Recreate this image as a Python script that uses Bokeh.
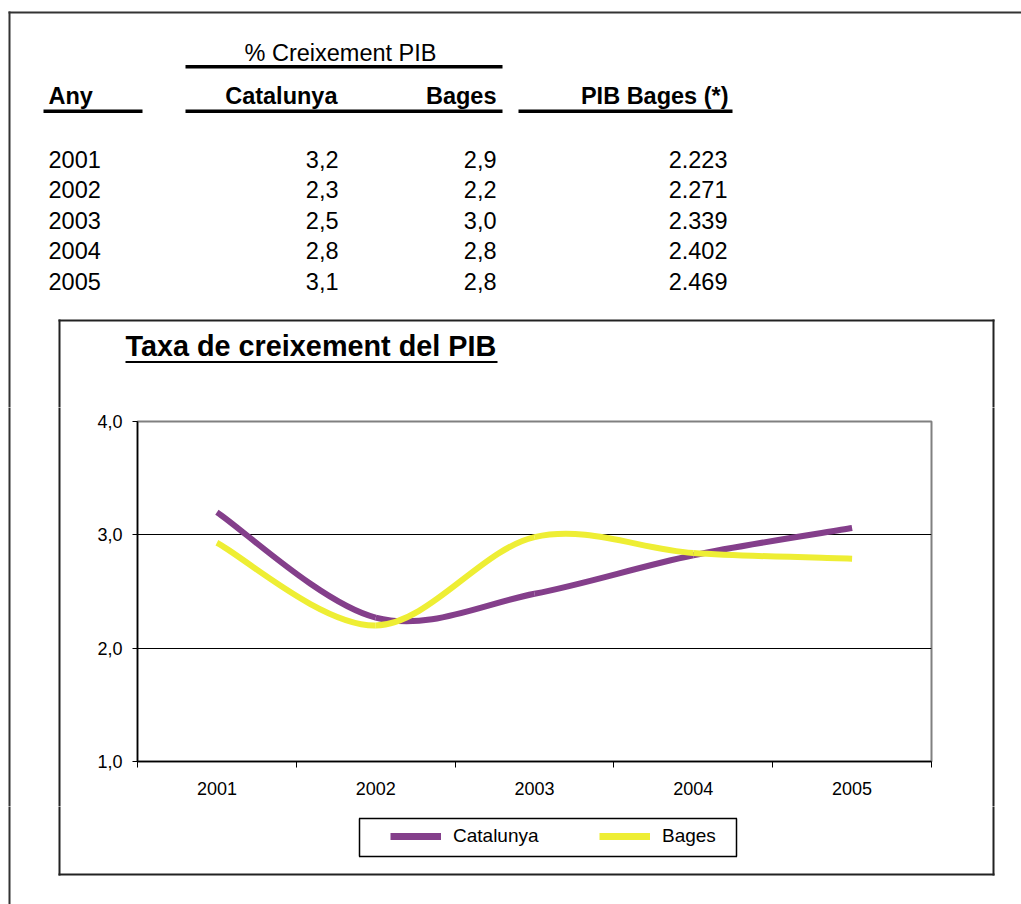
from bokeh.plotting import figure
from bokeh.models import (FixedTicker, Legend, LegendItem, ColumnDataSource, Range1d)
from bokeh.layouts import column, row
from bokeh.core.properties import value
from bokeh.embed import file_html
from bokeh.resources import INLINE

# ---------------- data ----------------
years = [2001, 2002, 2003, 2004, 2005]
# table values (% growth, PIB)
cat_table = [3.2, 2.3, 2.5, 2.8, 3.1]
bages_table = [2.9, 2.2, 3.0, 2.8, 2.8]
pib_bages = [2223, 2271, 2339, 2402, 2469]
# values as plotted in the chart
cat_chart = [3.20, 2.27, 2.48, 2.82, 3.06]
bages_chart = [2.93, 2.20, 2.98, 2.84, 2.79]
y_ticks = [1, 2, 3, 4]
y_tick_labels = ["1,0", "2,0", "3,0", "4,0"]
series_names = ["Catalunya", "Bages"]
series_colors = ["#843f8b", "#eeee34"]
table_header_top = "% Creixement PIB"
table_headers = ["Any", "Catalunya", "Bages", "PIB Bages (*)"]
chart_title = "Taxa de creixement del PIB"

FONT = "Liberation Sans"
PAGE_W, PAGE_H = 1021, 904


def fmt_dec(v):
    return f"{v:.1f}".replace(".", ",")


def fmt_thousands(v):
    return f"{v:,}".replace(",", ".")


def smooth_segments(xs, ys):
    """Bezier segments (Catmull-Rom style smoothing, like a spreadsheet 'smoothed line')."""
    n = len(xs)
    d = dict(x0=[], y0=[], x1=[], y1=[], cx0=[], cy0=[], cx1=[], cy1=[])
    for i in range(n - 1):
        im1 = max(i - 1, 0)
        ip2 = min(i + 2, n - 1)
        d["x0"].append(xs[i]); d["y0"].append(ys[i])
        d["x1"].append(xs[i + 1]); d["y1"].append(ys[i + 1])
        d["cx0"].append(xs[i] + (xs[i + 1] - xs[im1]) / 6.0)
        d["cy0"].append(ys[i] + (ys[i + 1] - ys[im1]) / 6.0)
        d["cx1"].append(xs[i + 1] - (xs[ip2] - xs[i]) / 6.0)
        d["cy1"].append(ys[i + 1] - (ys[ip2] - ys[i]) / 6.0)
    return d


# ---------------- layout geometry (page pixels) ----------------
CH_L, CH_R = 90, 941      # chart figure tile, horizontal
CH_T, CH_B = 407, 806     # chart figure tile, vertical
FR_L, FR_R = 137, 931     # plot frame
FR_T, FR_B = 421, 761


def txt(f, x, baseline, s, size=23.5, style="normal", align="left"):
    # placed by its middle; middle of the text box ~0.35 em above the baseline
    f.text(x=[x], y=[baseline - 0.35 * size], text=[s], text_font=value(FONT),
           text_font_size=value(f"{size}px"), text_font_style=style,
           text_align=align, text_baseline="middle", text_color="black")


def hline(f, x0, x1, y, color="black", width=1.5):
    f.segment(x0=[x0], y0=[y], x1=[x1], y1=[y], line_color=color, line_width=width)


def vline(f, x, y0, y1, color="black", width=1.5):
    f.segment(x0=[x], y0=[y0], x1=[x], y1=[y1], line_color=color, line_width=width)


def bar(f, l, r, t, b):
    f.quad(left=[l], right=[r], top=[t], bottom=[b], fill_color="black", line_alpha=0)


def decorate_lines(f):
    # outer page frame (top and left edges)
    hline(f, 8, PAGE_W + 5, 12, color="#333333", width=2)
    vline(f, 9, 11, PAGE_H + 5, color="#333333", width=2)
    # chart box
    for yy in (320, 874):
        hline(f, 58, 994, yy, color="#222222", width=2)
    for xx in (59, 993):
        vline(f, xx, 319, 875, color="#222222", width=2)
    # legend box
    hline(f, 358.5, 736.5, 818, width=1.5)
    hline(f, 358.5, 736.5, 856, width=1.5)
    vline(f, 359, 818, 856, width=1.5)
    vline(f, 736, 818, 856, width=1.5)


def decorate_texts(f):
    # table header
    txt(f, 340, 61, table_header_top, align="center")
    bar(f, 185, 502, 64.5, 68)
    txt(f, 48, 104, table_headers[0], style="bold")
    txt(f, 337, 104, table_headers[1], style="bold", align="right")
    txt(f, 496, 104, table_headers[2], style="bold", align="right")
    txt(f, 728, 104, table_headers[3], style="bold", align="right")
    bar(f, 43, 142, 109, 112.5)
    bar(f, 185, 502, 109, 112.5)
    bar(f, 518, 732, 109, 112.5)

    row_base = [167, 197.5, 228, 258.5, 289]
    for yb, yr, c, b, g in zip(row_base, years, cat_table, bages_table, pib_bages):
        txt(f, 48, yb, str(yr))
        txt(f, 338, yb, fmt_dec(c), align="right")
        txt(f, 496, yb, fmt_dec(b), align="right")
        txt(f, 727, yb, fmt_thousands(g), align="right")

    # chart title (underlined)
    txt(f, 125, 356, chart_title, size=28.8, style="bold")
    bar(f, 125, 497, 360.5, 362.5)


def tile(x0, x1, y0, y1, texts=False):
    f = figure(width=x1 - x0, height=y1 - y0, output_backend="svg", toolbar_location=None,
               x_range=Range1d(x0, x1), y_range=Range1d(y1, y0),
               x_axis_type=None, y_axis_type=None, min_border=0, title=None,
               frame_align=False)
    f.grid.visible = False
    f.outline_line_color = None
    f.background_fill_color = "white"
    f.border_fill_color = "white"
    decorate_lines(f)
    if texts:
        decorate_texts(f)
    return f


tile_top = tile(0, PAGE_W, 0, CH_T, texts=True)
tile_left = tile(0, CH_L, CH_T, CH_B)
tile_right = tile(CH_R, PAGE_W, CH_T, CH_B)
tile_bottom = tile(0, PAGE_W, CH_B, PAGE_H)

# legend (real Legend in the bottom tile; its renderers carry the series line styles
# and lie outside the tile's visible range)
legend_renderers = []
for col in series_colors:
    legend_renderers.append(tile_bottom.line(x=[-50, -40], y=[-50, -50],
                                             line_color=col, line_width=7))
legend = Legend(items=[LegendItem(label=n, renderers=[r])
                       for n, r in zip(series_names, legend_renderers)],
                location=(390, PAGE_H - 847), orientation="horizontal",
                glyph_width=51, glyph_height=8, label_standoff=12, label_width=88,
                spacing=58, padding=0, margin=0,
                border_line_alpha=0, background_fill_alpha=0,
                label_text_font=FONT, label_text_font_size="19px",
                label_text_color="black")
tile_bottom.add_layout(legend, "center")

# ---------------- the chart ----------------
p = figure(width=CH_R - CH_L, height=CH_B - CH_T, output_backend="svg", toolbar_location=None,
           x_range=Range1d(years[0] - 0.5, years[-1] + 0.5),
           y_range=Range1d(y_ticks[0], y_ticks[-1]), title=None, frame_align=False,
           min_border_left=FR_L - CH_L, min_border_right=CH_R - FR_R,
           min_border_top=FR_T - CH_T, min_border_bottom=CH_B - FR_B)
p.background_fill_color = "white"
p.border_fill_color = "white"
p.outline_line_color = "#808080"
p.outline_line_width = 2

xa = p.xaxis[0]
xa.ticker = FixedTicker(ticks=years, minor_ticks=[y - 0.5 for y in years] + [years[-1] + 0.5])
xa.major_label_overrides = {y: str(y) for y in years}
xa.major_tick_out = 0
xa.major_tick_in = 0
xa.minor_tick_out = 6
xa.minor_tick_in = 0
xa.minor_tick_line_color = "black"
xa.axis_line_color = "black"
xa.axis_line_width = 1.5
xa.major_label_text_font = FONT
xa.major_label_text_font_size = "18px"
xa.major_label_text_color = "black"
xa.major_label_standoff = 14

ya = p.yaxis[0]
ya.ticker = FixedTicker(ticks=y_ticks)
ya.major_label_overrides = {t: l for t, l in zip(y_ticks, y_tick_labels)}
ya.major_tick_out = 5
ya.major_tick_in = 0
ya.minor_tick_out = 0
ya.minor_tick_in = 0
ya.major_tick_line_color = "black"
ya.axis_line_color = "black"
ya.axis_line_width = 1.5
ya.major_label_text_font = FONT
ya.major_label_text_font_size = "18px"
ya.major_label_text_color = "black"
ya.major_label_standoff = 10

p.xgrid.visible = False
p.ygrid.ticker = FixedTicker(ticks=[2, 3])
p.ygrid.grid_line_color = "black"
p.ygrid.grid_line_width = 1

for name, vals, col in zip(series_names, [cat_chart, bages_chart], series_colors):
    src = ColumnDataSource(smooth_segments(years, vals))
    p.bezier(x0="x0", y0="y0", x1="x1", y1="y1", cx0="cx0", cy0="cy0",
             cx1="cx1", cy1="cy1", source=src, line_color=col, line_width=6)

layout = column(tile_top, row(tile_left, p, tile_right), tile_bottom)

open("out.html", "w").write(file_html(layout, INLINE))
